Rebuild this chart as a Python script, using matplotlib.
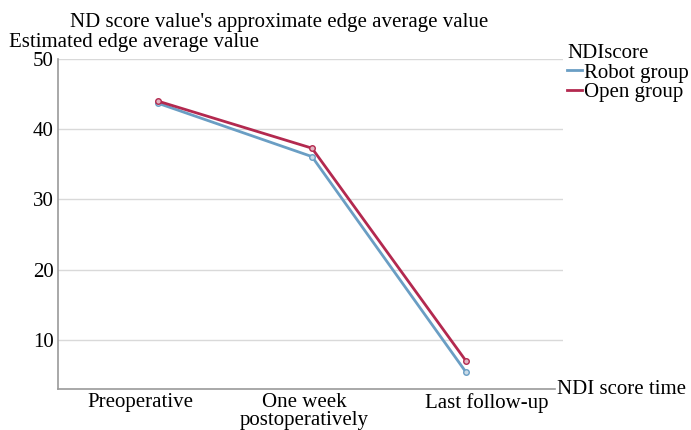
import matplotlib.pyplot as plt

categories = ["Preoperative", "One week\npostoperatively", "Last follow-up"]
robot = [43.7, 36.1, 5.4]
open_grp = [44.0, 37.3, 7.0]
yticks = [10, 20, 30, 40, 50]

plt.rcParams['font.family'] = ['Liberation Serif', 'DejaVu Serif']

fig = plt.figure(figsize=(6.91, 4.3), dpi=100)
ax = fig.add_axes([58 / 691, 1 - 389 / 430, (563 - 58) / 691, (389 - 59) / 430])

x = list(range(len(categories)))
ax.plot(x, robot, color="#6a9ec4", lw=2, marker="o", ms=4,
        mfc="#c9dbe8", mec="#6a9ec4", mew=1, label="Robot group", zorder=3)
ax.plot(x, open_grp, color="#b3294f", lw=2, marker="o", ms=4,
        mfc="#e2b3c0", mec="#b3294f", mew=1, label="Open group", zorder=4)

ax.set_xlim(-0.649, 2.63)
ax.set_ylim(3.0, 50)
ax.set_yticks(yticks)
# labels sit slightly off the points in the original
ax.set_xticks([-0.117, 0.948, 2.136])
ax.set_xticklabels(categories, fontsize=15, linespacing=0.9)
ax.tick_params(axis="both", length=0, labelsize=15, pad=3)
ax.tick_params(axis="x", pad=3)
ax.yaxis.grid(True, color="#d9d9d9", lw=1)
ax.set_axisbelow(True)
for s in ["top", "right"]:
    ax.spines[s].set_visible(False)
for s in ["left", "bottom"]:
    ax.spines[s].set_color("#9a9a9a")
    ax.spines[s].set_linewidth(1.2)
ax.spines["bottom"].set_bounds(-0.649, 2.578)

fig.text(70 / 691, 1 - 22 / 430, "ND score value's approximate edge average value",
         fontsize=15, va="center", ha="left")
fig.text(9 / 691, 1 - 43 / 430, "Estimated edge average value",
         fontsize=15, va="center", ha="left")
fig.text(557 / 691, 1 - 389 / 430, "NDI score time", fontsize=15, va="center", ha="left")

leg = ax.legend(title="NDIscore", loc="upper left", bbox_to_anchor=(567 / 691, 1 - 44 / 430),
                bbox_transform=fig.transFigure, frameon=False, fontsize=15,
                title_fontsize=15, handlelength=0.7, handletextpad=0.1,
                labelspacing=0.0, borderpad=0, borderaxespad=0)
leg._legend_box.align = "left"
for h in leg.legend_handles:
    h.set_marker("")

fig.savefig("out.png", dpi=100)
